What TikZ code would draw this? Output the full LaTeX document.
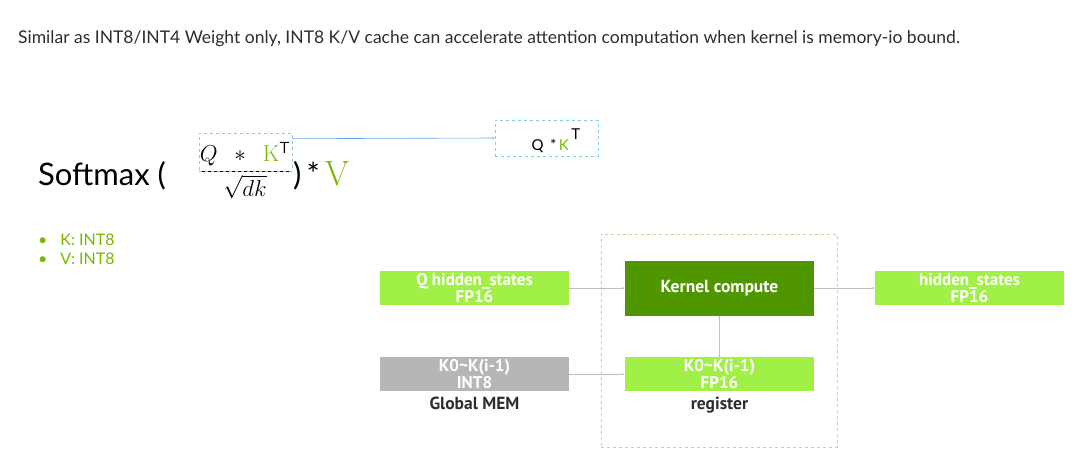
\RequirePackage{fix-cm}
\documentclass[tikz,border=0pt]{standalone}
\usepackage{amsmath}
\usepackage[no-math]{fontspec}
\setmainfont{Lato}
\newfontfamily\boxfont{PT Sans}
\usetikzlibrary{arrows.meta,positioning}
\definecolor{nvgreen}{RGB}{118,185,0}
\definecolor{lightgreen}{RGB}{160,240,72}
\definecolor{darkgreen}{RGB}{80,150,0}
\definecolor{memgray}{RGB}{182,182,182}
\definecolor{dashcyan}{RGB}{125,205,235}
\definecolor{dashgreen}{RGB}{180,225,130}
\definecolor{textgray}{RGB}{45,45,45}

\begin{document}
\begin{tikzpicture}[x=1pt,y=-1pt,>={Stealth[length=2.5pt,width=2pt]},
  block/.style={minimum width=189pt,minimum height=34pt,inner sep=0pt,
    text=white,align=center,font=\boxfont\bfseries\fontsize{17}{17.5}\selectfont},
  cyanbox/.style={draw=dashcyan,dashed,line width=0.6pt,inner sep=0pt},
  link/.style={draw=black!25,line width=0.6pt},
  caption/.style={font=\boxfont\bfseries\fontsize{17.5}{18}\selectfont,inner sep=1pt},
  bullet/.style={anchor=base west,inner sep=0pt,text=nvgreen,
    font=\fontsize{16}{18}\selectfont},
  every node/.style={text=textgray}]
  \useasboundingbox (0,0) rectangle (1083,471);

  \node[anchor=base west,inner sep=0pt,font=\fontsize{17.5}{20}\selectfont] (intro) at (18,43)
    {Similar as INT8/INT4 Weight only, INT8 K/V cache can accelerate attention computation when kernel is memory-io bound.};

  % formula
  \node[anchor=base west,inner sep=0pt,text=black,font=\fontsize{31}{34}\selectfont] (softmax) at (38,185)
    {Softmax (};
  \node[anchor=base,inner sep=0pt,text=black,font=\fontsize{23}{26}\selectfont] (frac) at (245,177)
    {$\displaystyle\frac{Q\ \ *\ \ \textcolor{nvgreen}{\mathrm{K}}^{\textsf{T}}}{\sqrt{dk}}$};
  \node[anchor=base west,inner sep=0pt,text=black,font=\fontsize{31}{34}\selectfont] (tail) at (293,185)
    {)\,*\,\textcolor{nvgreen}{\fontsize{35}{36}\selectfont$\mathrm{V}$}};
  \node[cyanbox,minimum width=93pt,minimum height=38pt] (numbox) at (245.5,152) {};
  \node[cyanbox,minimum width=103pt,minimum height=36pt] (qkbox) at (546.5,138) {};
  \node[anchor=base,inner sep=0pt,text=black,font=\fontsize{15}{16}\selectfont] (qk) at (556,150)
    {Q \,*\,\textcolor{nvgreen}{K}\,\raisebox{11pt}{T}};
  \draw[draw=dashcyan!80!blue,line width=0.6pt,->] ([yshift=-6pt]numbox.north east) -- (qkbox.west);

  % precision of the cache
  \node[bullet] (kint) at (38,245) {\textbullet\hspace{13pt}K: INT8};
  \node[bullet] (vint) at (38,264) {\textbullet\hspace{13pt}V: INT8};

  % data path
  \node[draw=dashgreen,dashed,line width=0.6pt,minimum width=236pt,minimum height=213pt] (regzone) at (719,340.5) {};
  \node[block,fill=lightgreen] (qhs) at (474.5,288) {Q hidden\_states\\FP16};
  \node[block,fill=darkgreen,minimum height=55pt,font=\boxfont\bfseries\fontsize{17.5}{18}\selectfont] (kernel) at (719.5,288) {Kernel compute};
  \node[block,fill=lightgreen] (hs) at (969.5,288) {hidden\_states\\FP16};
  \node[block,fill=memgray] (kmem) at (474.5,374) {K0\textasciitilde K(i-1)\\INT8};
  \node[block,fill=lightgreen] (kreg) at (719.5,374) {K0\textasciitilde K(i-1)\\FP16};
  \node[caption,below=5pt of kmem] (gmem) {Global MEM};
  \node[caption,below=5pt of kreg] (reg) {register};

  \draw[link,->] (qhs) -- (kernel);
  \draw[link,->] (kernel) -- (hs);
  \draw[link,->] (kmem) -- (kreg);
  \draw[link,->] (kreg) -- (kernel);
\end{tikzpicture}
\end{document}
